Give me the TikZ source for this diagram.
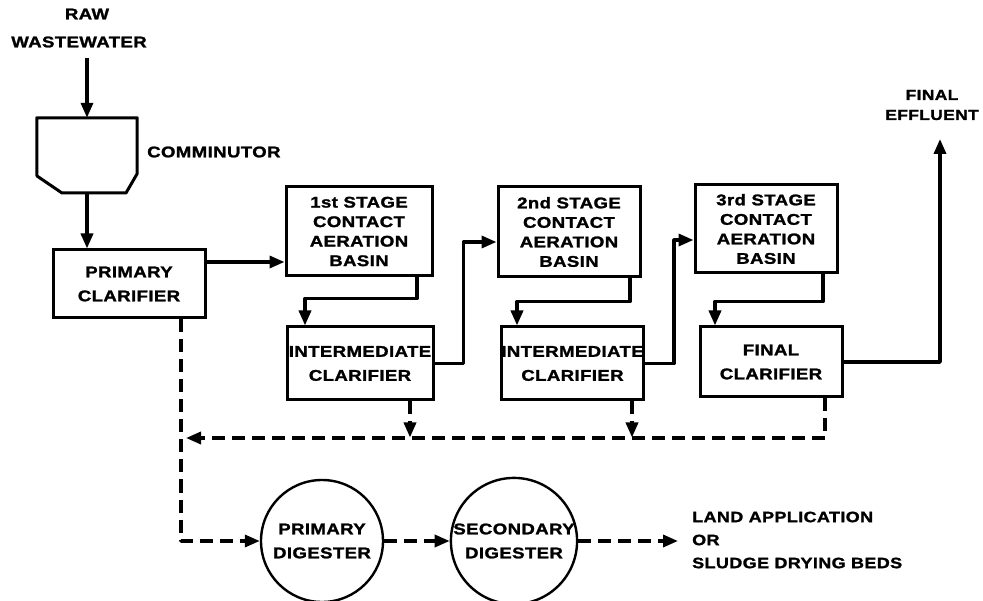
\documentclass[tikz,border=0pt]{standalone}
\usepackage{fontspec}
\setmainfont{Liberation Sans}[FakeStretch=1.2, LetterSpace=2.5, BoldFeatures={FakeBold=1.5}]
\usetikzlibrary{arrows.meta}
\begin{document}
\begin{tikzpicture}[x=1pt,y=-1pt,
  txt/.style={font=\bfseries\fontsize{15.5}{19.5}\selectfont, align=center, inner sep=0pt},
  txtb/.style={font=\bfseries\fontsize{15.5}{24}\selectfont, align=center, inner sep=0pt},
  box/.style={draw, line width=3pt},
  arr/.style={line width=3.4pt, -{Triangle[length=15pt,width=12pt]}},
  darr/.style={arr, dash pattern=on 13pt off 7pt},
  dig/.style={circle, draw, line width=2.4pt, txtb, inner sep=0pt}]
\useasboundingbox (0,0) rectangle (983,601);

% inlet and comminutor
\node[txt] (raw) at (87,14) {RAW};
\node[txt] (ww) at (79,42) {WASTEWATER};
\coordinate (rawin) at (87,58);
\node[inner sep=0pt, minimum width=100pt, minimum height=75pt] (com) at (87,155.5) {};
\draw[line width=3pt, line join=round] (com.north west) -- (37,176) -- (62,193) -- (126,193) -- (137,174) -- (com.north east) -- cycle;
\node[txt, anchor=west] (comlbl) at (147,152) {COMMINUTOR};
\draw[arr] (rawin) -- (com.north);

% boxes
\node[box, txtb, minimum width=152pt, minimum height=68pt] (pc) at (129,284) {PRIMARY\\CLARIFIER};
\node[box, txt, minimum width=146pt, minimum height=89pt] (s1) at (359,231.5) {1st STAGE\\CONTACT\\AERATION\\BASIN};
\node[box, txtb, minimum width=146pt, minimum height=73pt] (ic1) at (360,363.5) {INTERMEDIATE\\CLARIFIER};
\node[box, txt, minimum width=142pt, minimum height=90pt] (s2) at (569,232) {2nd STAGE\\CONTACT\\AERATION\\BASIN};
\node[box, txtb, minimum width=141pt, minimum height=73pt] (ic2) at (572.5,363.5) {INTERMEDIATE\\CLARIFIER};
\node[box, txt, minimum width=142pt, minimum height=88pt] (s3) at (766,229) {3rd STAGE\\CONTACT\\AERATION\\BASIN};
\node[box, txtb, minimum width=142pt, minimum height=70pt] (fc) at (771,362) {FINAL\\CLARIFIER};

\node[txt, font=\bfseries\fontsize{14.5}{20}\selectfont] (eff) at (932,105) {FINAL\\EFFLUENT};
\coordinate (effin) at (940,139);

% solid flow
\draw[arr] (com.south) -- (com.south |- pc.north);
\draw[arr] ([yshift=22pt]pc.east) -- ([yshift=22pt]pc.east -| s1.west);
\draw[arr, line join=round] ([xshift=58pt]s1.south) -- ++(0,21) -| ([xshift=-55pt]ic1.north);
\draw[arr, line join=round] (ic1.east) -- ++(29,0) |- ([yshift=-10pt]s2.west);
\draw[arr, line join=round] ([xshift=61pt]s2.south) -- ++(0,23) -| ([xshift=-55.5pt]ic2.north);
\draw[arr, line join=round] (ic2.east) -- ++(29,0) |- ([yshift=-11pt]s3.west);
\draw[arr, line join=round] ([xshift=57pt]s3.south) -- ++(0,27) -| ([xshift=-56pt]fc.north);
\draw[arr, line join=round] (fc.east) -| (effin);

% digesters
\node[dig, minimum size=122pt] (pd) at (322,541) {PRIMARY\\DIGESTER};
\node[dig, minimum size=120pt] (sd) at (514,541) {SECONDARY\\DIGESTER};
\coordinate (landin) at (678,541);
\node[anchor=west, align=left, inner sep=0pt, font=\bfseries\fontsize{15}{23}\selectfont] (land) at (692,540) {LAND APPLICATION\\OR\\SLUDGE DRYING BEDS};

% sludge (dashed)
\coordinate (ret) at (186,438);
\draw[darr, line join=round] ([xshift=54pt]fc.south) |- (ret);
\draw[darr] ([xshift=50pt]ic1.south) -- ++(0,36);
\draw[darr] ([xshift=59.5pt]ic2.south) -- ++(0,36);
\draw[darr, line join=round] ([xshift=52pt]pc.south) |- (pd.west);
\draw[darr] (pd.east) -- (sd.west);
\draw[darr] (sd.east) -- (landin);
\end{tikzpicture}
\end{document}
